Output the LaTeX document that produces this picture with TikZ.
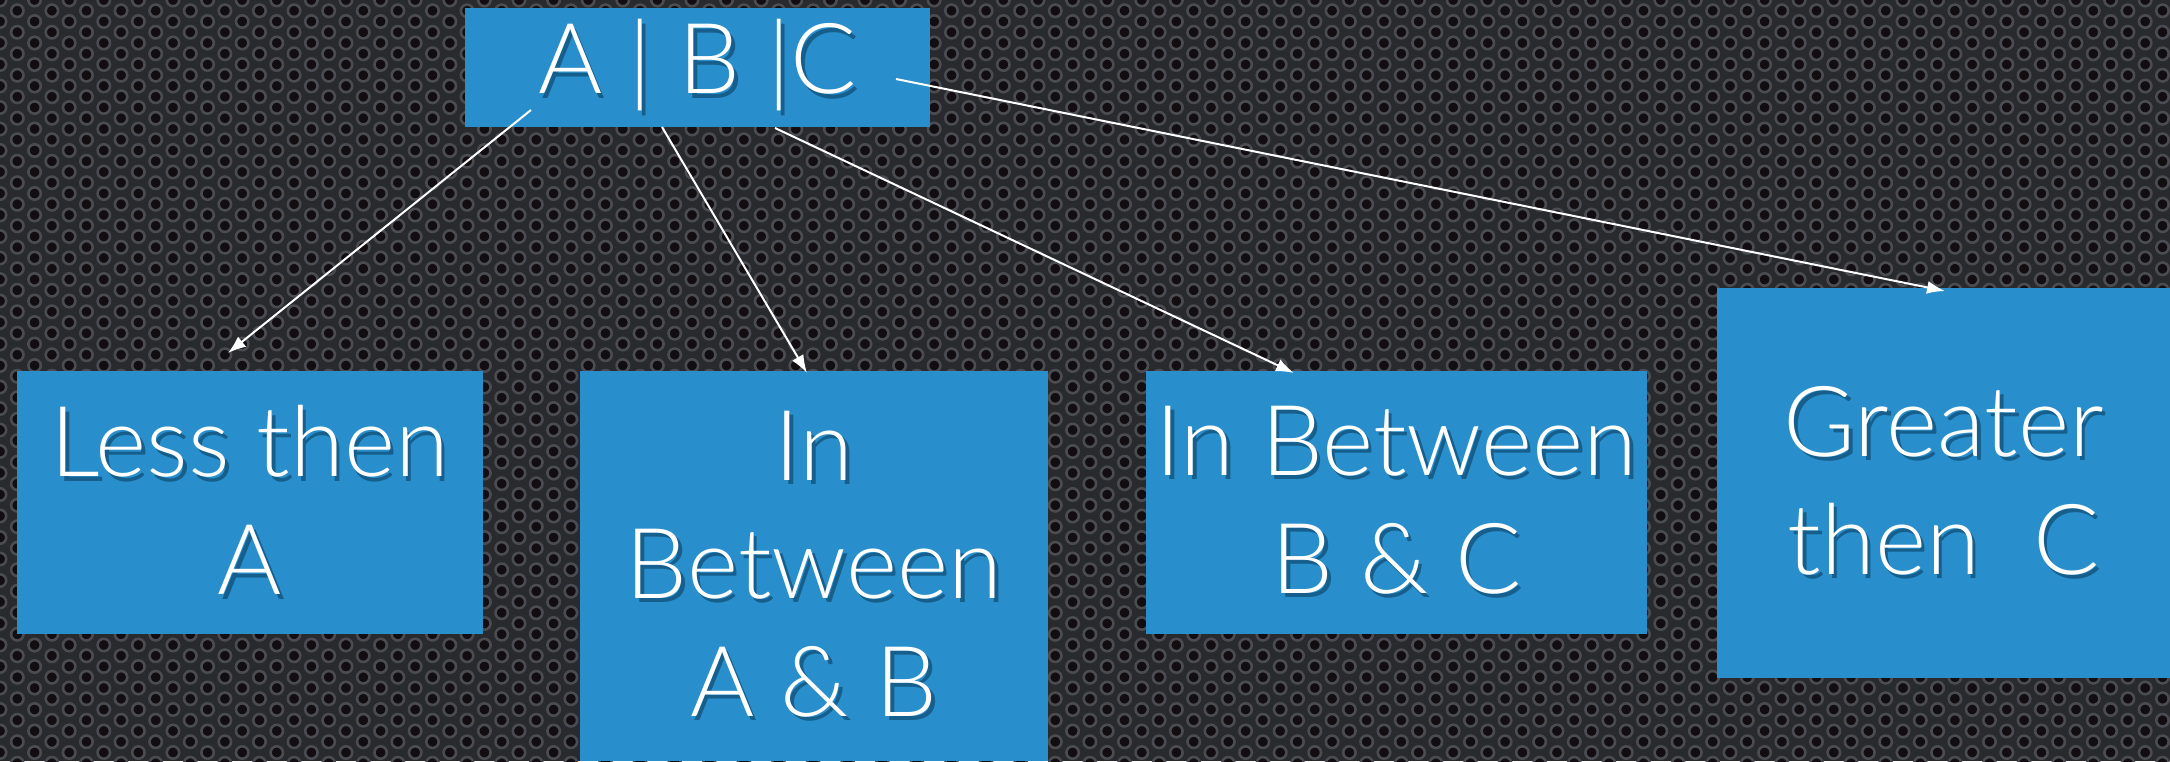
\documentclass[tikz,border=0pt]{standalone}
\usepackage{fontspec}
\setmainfont{Lato Light}
\usetikzlibrary{arrows.meta}
\definecolor{boxblue}{RGB}{40,143,204}
\definecolor{txtshadow}{RGB}{22,95,140}
\definecolor{bgdark}{RGB}{40,42,46}
\definecolor{holecol}{RGB}{18,13,17}
\definecolor{rimcol}{RGB}{74,76,82}
\newcommand\shl[1]{\makebox[0pt][l]{\hspace{1.8pt}\raisebox{-2.2pt}{\textcolor{txtshadow}{#1}}}#1}
\begin{document}
\begin{tikzpicture}[x=0.5pt,y=-0.5pt,
  box/.style={fill=boxblue, draw=none, inner sep=0pt, text=white, align=center,
              font=\fontsize{49}{59}\selectfont},
  conn/.style={draw=white, line width=1pt, -{Latex[length=9pt,width=6.5pt]}},
  hole/.style={fill=holecol, draw=rimcol, line width=1.3pt}]
\fill[bgdark] (0,0) rectangle (2170,761);
\useasboundingbox (0,0) rectangle (2170,761);
% perforated background
\foreach \c in {0,2,...,126}{
  \foreach \r in {0,...,38}{
    \filldraw[hole] (\c*17.3,\r*21.5) circle[radius=3.1pt];
  }
}
\foreach \c in {1,3,...,125}{
  \foreach \r in {0,...,38}{
    \filldraw[hole] (\c*17.3,\r*21.5+10.75) circle[radius=3.1pt];
  }
}
% boxes
\node[box, minimum width=232.5pt, minimum height=59.5pt] (top) at (697.5,67.5) {\raisebox{-6pt}{\shl{A | B |C}}};
\node[box, minimum width=233pt, minimum height=131.5pt] (lessA) at (250,502.5) {\shl{Less then}\\\shl{A}};
\node[box, minimum width=234pt, minimum height=195pt] (betAB) at (814,566) {\shl{In}\\\shl{Between}\\\shl{A \& B}};
\node[box, minimum width=250.5pt, minimum height=131.5pt] (betBC) at (1396.5,502.5) {\shl{In Between}\\\shl{B \& C}};
\node[box, minimum width=226.5pt, minimum height=195pt] (grC) at (1943.5,483) {\shl{Greater}\\\shl{then\ \ C}};
% connector end points
\coordinate (s1) at (531,110);
\coordinate (e1) at (228,353);
\coordinate (s2) at (662,127);
\coordinate (e2) at (807,373);
\coordinate (s3) at (775,128);
\coordinate (e3) at (1294,373);
\coordinate (s4) at (896,79);
\coordinate (e4) at (1945,291);
\draw[conn] (s1) -- (e1);
\draw[conn] (s2) -- (e2);
\draw[conn] (s3) -- (e3);
\draw[conn] (s4) -- (e4);
\end{tikzpicture}
\end{document}
